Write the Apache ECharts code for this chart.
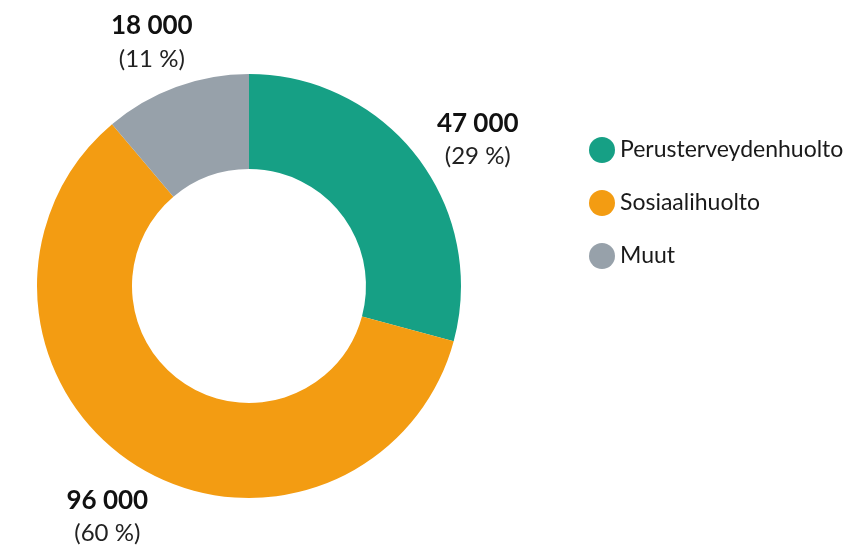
<!DOCTYPE html>
<html>
<head>
<meta charset="utf-8">
<script src="https://cdn.jsdelivr.net/npm/echarts@6/dist/echarts.min.js"></script>
<style>
  html, body { margin: 0; padding: 0; background: #fff; }
  #chart { width: 861px; height: 545px; }
</style>
</head>
<body>
<div id="chart"></div>
<script>
var categories = ['Perusterveydenhuolto', 'Sosiaalihuolto', 'Muut'];
var values = [47000, 96000, 18000];
var colors = ['#16a085', '#f39c12', '#97a1aa'];
// small per-label nudges (pixels) to match the original placement
var labelNudge = [[16, 17], [2, 5], [-5, 8]];

function fmtNum(v) {
  return String(v).replace(/\B(?=(\d{3})+(?!\d))/g, ' ');
}

var chart = echarts.init(document.getElementById('chart'));

var option = {
  backgroundColor: '#fff',
  textStyle: { fontFamily: 'Lato' },
  color: colors,
  legend: {
    orient: 'vertical',
    left: 584,
    top: 132,
    icon: 'circle',
    itemWidth: 26,
    itemHeight: 26,
    itemGap: 27,
    data: categories,
    textStyle: { fontSize: 23, color: '#1a1a1a', fontFamily: 'Lato' }
  },
  series: [{
    type: 'pie',
    center: [249, 286],
    radius: [117, 212],
    startAngle: 90,
    avoidLabelOverlap: false,
    label: {
      position: 'outside',
      formatter: function (p) {
        return '{a|' + fmtNum(p.value) + '}\n{b|(' + Math.round(p.percent) + ' %)}';
      },
      rich: {
        a: { fontSize: 26, fontWeight: 'bold', color: '#111', fontFamily: 'Lato', lineHeight: 33, align: 'center' },
        b: { fontSize: 24, color: '#222', fontFamily: 'Lato', lineHeight: 33, align: 'center' }
      }
    },
    labelLine: { show: true, length: 56, length2: 0, lineStyle: { opacity: 0 } },
    labelLayout: function (params) {
      var pts = params.labelLinePoints;
      if (!pts) return {};
      var n = labelNudge[params.dataIndex];
      return { x: pts[1][0] + n[0], y: pts[1][1] + n[1], align: 'center', verticalAlign: 'middle' };
    },
    emphasis: { disabled: true },
    data: categories.map(function (c, i) { return { name: c, value: values[i] }; })
  }]
};

chart.setOption(option);
</script>
</body>
</html>
